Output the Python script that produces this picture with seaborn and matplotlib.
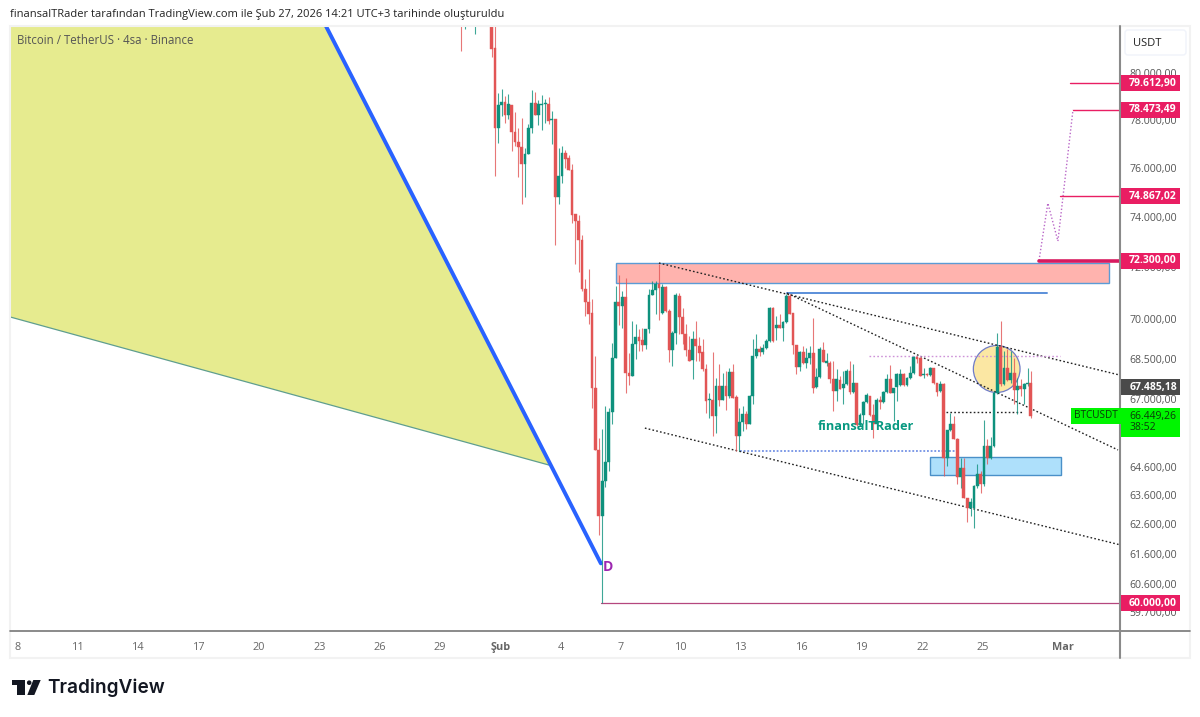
import matplotlib
matplotlib.use('Agg')
import matplotlib.pyplot as plt
import numpy as np
import pandas as pd
import seaborn as sns
from matplotlib.patches import Rectangle, Ellipse, Polygon, Circle, FancyBboxPatch
from matplotlib.ticker import NullLocator
from matplotlib.transforms import ScaledTranslation

# 4h candles (first ones run above the top of the chart)
opens = [84000, 83000, 83400, 83000, 82800, 83400, 83700, 83500, 83300, 83000, 81180,
    77690, 78665, 78794, 78240, 78665, 77521, 77102, 76892, 76186, 76601,
    77690, 78751, 78240, 78665, 78708, 78708, 78028, 78070, 74834, 75692,
    76643, 76435, 75939, 74146, 73865, 73108, 71188, 70688, 70267, 67464,
    65231, 62902, 64143, 64807, 66590, 68571, 70688, 70534, 70880, 68015,
    67904, 69094, 69357, 69245, 69056, 69659, 70957, 71150, 71382, 70267,
    71266, 70343, 68870, 69508, 70918, 70115, 69470, 68870, 68497, 69282,
    69019, 68795, 68163, 67025, 67025, 66446, 67537, 67025, 67537, 67171,
    68052, 67135, 65729, 66230, 66518, 66158, 67171, 68645, 68907, 68795,
    68944, 69207, 70458, 69698, 69811, 69698, 69925, 70918, 70267, 69056,
    68237, 68795, 68385, 68571, 68757, 67501, 67868, 68870, 68385, 68385,
    67794, 67354, 67757, 67464, 67610, 68089, 67317, 67647, 66122, 66482,
    66953, 67171, 66482, 66158, 67025, 66953, 67317, 67794, 67280, 67501,
    67573, 67978, 67573, 67831, 68015, 68608, 68571, 67941, 67978, 67941,
    68200, 67647, 67354, 67610, 64948, 65943, 66158, 65622, 64282, 64597,
    63554, 63176, 63176, 63969, 64387, 64038, 65373, 64948, 65373, 67280,
    68982, 67610, 68200, 67757, 68015, 67391, 67537, 67427, 67610, 67647]
closes = [83200, 83400, 83000, 83300, 83300, 83700, 83500, 83300, 83000, 81137, 77690,
    78665, 78794, 78240, 78708, 77521, 77102, 76892, 76186, 76601, 77690,
    78751, 78240, 78708, 78708, 78751, 77985, 78070, 74834, 75692, 76643,
    76393, 75939, 74106, 73865, 73108, 71188, 70688, 70229, 67464, 65231,
    62902, 64143, 64807, 66590, 68571, 70688, 70534, 70880, 68015, 67904,
    69094, 69357, 69207, 69056, 69659, 70957, 71150, 71382, 71227, 71266,
    70343, 68870, 69508, 70957, 70115, 69470, 68870, 68459, 69282, 69019,
    68757, 68163, 66989, 67062, 66446, 67537, 67025, 67537, 67171, 68052,
    67098, 65729, 66230, 66518, 66158, 67171, 68645, 68907, 68795, 68944,
    69207, 70458, 69207, 69811, 69698, 69925, 70918, 70229, 69056, 68237,
    68795, 68385, 68571, 68757, 67464, 67868, 68907, 68422, 68459, 67794,
    67354, 67794, 67427, 67610, 68089, 67317, 67647, 66122, 66482, 66953,
    67208, 66482, 66158, 67025, 66953, 67317, 67794, 67280, 67464, 67978,
    67978, 67573, 67831, 68015, 68608, 68534, 67904, 67978, 67941, 68200,
    67647, 67317, 67610, 64948, 65943, 66158, 65622, 64282, 64597, 63554,
    63210, 63416, 63969, 64387, 64038, 65373, 64948, 65373, 67280, 68982,
    67610, 68200, 67757, 68015, 67391, 67537, 67427, 67610, 67647, 66449]
highs = [84500, 83800, 83900, 83600, 83800, 84000, 84000, 83800, 83600, 83500, 83000,
    79179, 79352, 79050, 79136, 78665, 78367, 77690, 78112, 76851, 77858,
    79308, 79222, 78879, 79093, 78922, 79007, 78410, 78070, 76851, 76934,
    76768, 76559, 76186, 74146, 74106, 73306, 71576, 71965, 70803, 68645,
    65658, 65979, 66808, 66735, 69132, 71305, 71731, 71111, 71615, 68757,
    69962, 69849, 69659, 69698, 69659, 71188, 71498, 71498, 72161, 71382,
    71305, 70420, 69584, 71034, 71034, 70458, 69849, 69395, 69584, 69962,
    69357, 69282, 68348, 67280, 68795, 67831, 68348, 68015, 68089, 68200,
    68348, 67208, 66735, 66808, 66627, 67208, 69282, 69470, 69019, 69094,
    69282, 70496, 70496, 70153, 70229, 69962, 70995, 70995, 70267, 69056,
    68832, 69019, 68944, 69019, 70077, 68200, 68982, 69169, 68757, 68459,
    68459, 68163, 67904, 68089, 68163, 68459, 68348, 67647, 66554, 66989,
    67280, 67171, 66880, 67098, 67171, 67354, 67978, 68311, 67464, 68015,
    68163, 68015, 67868, 68274, 68645, 68645, 68608, 68200, 68015, 68237,
    68200, 67647, 67720, 67647, 65943, 66554, 66446, 65658, 64948, 64948,
    63554, 63554, 64004, 64737, 64492, 66302, 65622, 65693, 67354, 69508,
    69962, 68832, 68907, 68832, 68571, 67831, 67794, 67647, 68200, 68089]
lows = [81040, 82010, 82500, 82500, 81780, 82800, 83000, 82800, 82500, 80742, 75692,
    77060, 78197, 77900, 78070, 76726, 76934, 75651, 74550, 74834, 76601,
    77479, 78240, 77816, 77606, 77900, 77858, 77018, 72910, 74550, 75405,
    76021, 75939, 73785, 72161, 71848, 71111, 70153, 69849, 66735, 65231,
    62256, 60000, 63934, 64492, 66158, 68571, 69811, 69698, 67280, 67573,
    67904, 68534, 68832, 68832, 68907, 69508, 70957, 70229, 70001, 70229,
    70305, 68422, 68274, 69094, 69470, 69094, 68645, 68459, 67794, 68459,
    68459, 68089, 66554, 66374, 65729, 65836, 66808, 67025, 66663, 67098,
    67098, 65195, 65195, 65907, 65979, 66158, 66880, 68571, 68645, 68720,
    68907, 69169, 69169, 69245, 69698, 69207, 69887, 70229, 68720, 67978,
    68089, 68348, 68200, 68348, 67280, 67464, 67831, 68422, 68274, 67647,
    66627, 66989, 67427, 66880, 67573, 67244, 67280, 66086, 66086, 66158,
    66916, 66446, 65657, 66122, 66699, 66916, 67280, 67280, 66266, 66989,
    67537, 67537, 67537, 67794, 67978, 68385, 67904, 67831, 67904, 67904,
    67610, 67171, 67317, 64317, 64667, 65907, 65622, 64038, 63900, 63554,
    62697, 62902, 62494, 63900, 63726, 63969, 64737, 64913, 65337, 67244,
    67537, 67573, 67720, 67647, 66880, 66518, 67171, 66880, 67537, 66374]

# scale and labels
price_ticks = [80000, 78000, 76000, 74000, 72000, 70000, 68500, 67000, 64600, 63600, 62600, 61600, 60600, 59700]
price_labels = ['80.000,00', '78.000,00', '76.000,00', '74.000,00', '72.000,00', '70.000,00', '68.500,00',
    '67.000,00', '64.600,00', '63.600,00', '62.600,00', '61.600,00', '60.600,00', '59.700,00']
day_ticks = [8, 11, 14, 17, 20, 23, 26, 29, 32, 35, 38, 41, 44, 47, 50, 53, 56, 60]
day_labels = ['8', '11', '14', '17', '20', '23', '26', '29', 'Şub', '4', '7', '10', '13', '16', '19', '22', '25', 'Mar']

target_prices = [79612.90, 78473.49, 74867.02, 72300.00, 60000.00]
target_labels = ['79.612,90', '78.473,49', '74.867,02', '72.300,00', '60.000,00']
target_starts = [60.34, 60.49, 59.84, 58.8, 37.0]
target_widths = [1.0, 1.0, 1.0, 2.6, 0.9]
target_colors = ['#e91e63', '#e91e63', '#e91e63', '#d81b60', '#b5477e']

RED = '#e25555'
TEAL = '#0e917d'
PINK = '#e91e63'
FONT = ['Open Sans', 'DejaVu Sans']

sns.set_theme(style='white')
plt.rcParams['font.family'] = FONT

fig = plt.figure(figsize=(12, 7.17), dpi=100)
ax = fig.add_axes([10 / 1200, (717 - 631) / 717, 1110 / 1200, 605 / 717])
ax.set_yscale('log')

df = pd.DataFrame({'open': opens, 'close': closes, 'high': highs, 'low': lows})
times = pd.date_range(end='2026-02-27 09:30', periods=len(df), freq='4h')
df['day'] = (times - pd.Timestamp('2026-01-01')) / pd.Timedelta(days=1) + 1
df['color'] = np.where(df['close'] >= df['open'], TEAL, RED)

# harmonic pattern
ax.add_patch(Polygon([(7.6, 82137), (23.32, 82137), (34.52, 64667), (7.6, 70115)], closed=True,
                     facecolor='#e6eb8f', edgecolor='none', zorder=1))
sns.lineplot(x=[7.6, 34.52], y=[70115, 64667], color='#5f9e8f', linewidth=0.9, ax=ax, zorder=2)
sns.lineplot(x=[23.32, 34.52, 37.0], y=[82137, 64667, 61317], color='#2962ff', linewidth=2.8,
             sort=False, estimator=None, ax=ax, zorder=2)

# zones
ax.add_patch(Rectangle((37.73, 71420), 24.55, 72201 - 71420, facecolor='#ffb3ae', edgecolor='#5b9bd5',
                       linewidth=1.0, zorder=1))
ax.add_patch(Rectangle((53.37, 64336), 6.52, 64970 - 64336, facecolor='#aee0fb', edgecolor='#4a90c8',
                       linewidth=1.0, zorder=1))
ax.add_patch(Ellipse(((996.7 - 10) / 1110, (631 - 369) / 605), 46.7 / 1110, 47 / 605, transform=ax.transAxes,
                     facecolor='#fbe7a3', edgecolor='#6f7cc8', linewidth=0.9, zorder=1.5))

# trend lines
trend_lines = [([39.89, 62.83], [72201, 67930]), ([46.26, 62.73], [71030, 65220]), ([39.19, 62.83], [66000, 61940])]
for xs, ys in trend_lines:
    sns.lineplot(x=xs, y=ys, color='#222222', linewidth=1.0, linestyle=(0, (1.2, 1.6)), ax=ax, zorder=4)
sns.lineplot(x=[54.17, 58.0], y=[66580, 66580], color='#222222', linewidth=1.0, linestyle=(0, (1.2, 1.6)), ax=ax, zorder=4)
sns.lineplot(x=[50.34, 59.84], y=[68640, 68640], color='#ce93d8', linewidth=1.0, linestyle=(0, (1.2, 1.6)), ax=ax, zorder=4)
sns.lineplot(x=[43.92, 54.87], y=[65190, 65190], color='#5b7fe0', linewidth=1.1, linestyle=(0, (1.2, 1.2)), ax=ax, zorder=2)
sns.lineplot(x=[46.26, 59.19], y=[71030, 71030], color='#5b8fd9', linewidth=1.4, ax=ax, zorder=2)

# projected path
sns.lineplot(x=[58.8, 59.24, 59.74, 60.49], y=[72300, 74590, 73068, 78473.49], color='#ba68c8', linewidth=1.0,
             linestyle=(0, (1, 1.5)), sort=False, estimator=None, ax=ax, zorder=2)

# targets
for price, start, width, color in zip(target_prices, target_starts, target_widths, target_colors):
    sns.lineplot(x=[start, 62.83], y=[price, price], color=color, linewidth=width, ax=ax, zorder=3)

# candles
ax.vlines(df['day'], df['low'], df['high'], colors=df['color'], linewidths=0.8, alpha=0.8, zorder=5)
ax.bar(df['day'], (df['close'] - df['open']).abs(), bottom=df[['open', 'close']].min(axis=1), width=0.14,
       color=df['color'], edgecolor=df['color'], linewidth=0.3, zorder=6)

ax.set_xlim(7.602, 62.83)
ax.set_ylim(59103, 82137)
ax.set_xlabel('')
ax.set_ylabel('')
ax.yaxis.tick_right()
ax.set_yticks(price_ticks, labels=price_labels)
ax.yaxis.set_minor_locator(NullLocator())
ax.set_xticks(day_ticks, labels=day_labels)
ax.tick_params(axis='y', length=0, pad=7, labelsize=7.6, labelcolor='#555555')
ax.tick_params(axis='x', length=0, pad=8, labelsize=7.8, labelcolor='#666666')
nudge = ScaledTranslation(0, 1 / 100, fig.dpi_scale_trans)
for label in ax.get_yticklabels():
    label.set_transform(label.get_transform() + nudge)
for label in ax.get_xticklabels():
    if label.get_text() in ('Şub', 'Mar'):
        label.set_fontweight('bold')
sns.despine(ax=ax, top=True, left=True, right=True, bottom=True)

# overlay in pixels for the TradingView chrome
ov = fig.add_axes([0, 0, 1, 1], facecolor='none')
ov.set_xlim(0, 1200)
ov.set_ylim(717, 0)
ov.axis('off')

def price_y(price):
    return 717 - ax.transData.transform((20, price))[1]

ov.add_patch(Rectangle((10, 26), 1180, 632, facecolor='none', edgecolor='#f2f2f2', linewidth=1.5))
ov.plot([10, 1190], [631, 631], color='#777777', linewidth=1.2)
ov.plot([1120, 1120], [26, 658], color='#8a8a8a', linewidth=1.5)

ov.add_patch(FancyBboxPatch((1127, 32), 57, 21, boxstyle='round,pad=2,rounding_size=3',
                            facecolor='white', edgecolor='#f0f3fa', linewidth=1))
ov.text(1133, 43, 'USDT', fontsize=8, color='#222222', va='center')

for price, label in zip(target_prices, target_labels):
    y = price_y(price)
    ov.add_patch(Rectangle((1120.5, y - 8), 59.5, 16, facecolor=PINK, edgecolor='none', zorder=5))
    ov.text(1153, y, label, fontsize=7.5, color='white', fontweight='bold', ha='center', va='center', zorder=6)

y = price_y(67485.18)
ov.add_patch(Rectangle((1120.5, y - 8), 59.5, 16, facecolor='#4a4a4a', edgecolor='none', zorder=5))
ov.text(1153, y, '67.485,18', fontsize=7.5, color='white', fontweight='bold', ha='center', va='center', zorder=6)

ov.add_patch(Rectangle((1070.5, 408), 50, 16, facecolor='#00f500', edgecolor='none', zorder=5))
ov.add_patch(Rectangle((1120.5, 408), 59.5, 29, facecolor='#00f500', edgecolor='none', zorder=5))
ov.text(1095.5, 416, 'BTCUSDT', fontsize=7.2, color='#0a3a0a', ha='center', va='center', zorder=6)
ov.text(1153, 416, '66.449,26', fontsize=7.5, color='#0a3a0a', ha='center', va='center', zorder=6)
ov.text(1130, 428, '38:52', fontsize=7.5, color='#0a3a0a', va='center', zorder=6)

ov.text(10, 14.5, 'finansalTRader tarafından TradingView.com ile Şub 27, 2026 14:21 UTC+3 tarihinde oluşturuldu',
        fontsize=8.05, color='#222222', va='center')
ov.text(17, 40.5, 'Bitcoin / TetherUS · 4sa · Binance', fontsize=8.3, color='#555555', va='center')
ov.text(865.5, 427, 'finansalTRader', fontsize=9.2, color='#089981', fontweight='bold', ha='center', va='center')
ov.text(608, 567, 'D', fontsize=10, color='#9c27b0', fontweight='bold', ha='center', va='center')

# logo
ov.add_patch(Polygon([(11.7, 680), (25, 680), (25, 695), (17.3, 695), (17.3, 685), (11.7, 685)], facecolor='#131722', edgecolor='none'))
ov.add_patch(Circle((29.2, 682.7), 2.3, facecolor='#131722', edgecolor='none'))
ov.add_patch(Polygon([(33.3, 680), (40.7, 680), (34.3, 695), (27.3, 695)], facecolor='#131722', edgecolor='none'))
ov.text(47.5, 687.5, 'TradingView', fontsize=13.7, color='#131722', fontweight='semibold', va='center', family='Inter')

fig.savefig('out.png', dpi=100, facecolor='white')
